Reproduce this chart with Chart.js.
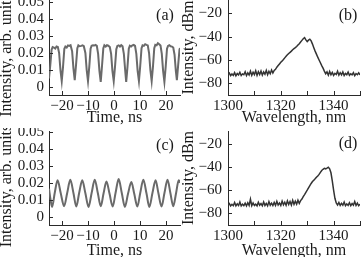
<!DOCTYPE html>
<html>
<head>
<meta charset="utf-8">
<script src="https://cdn.jsdelivr.net/npm/chart.js@4.4.0/dist/chart.umd.min.js"></script>
<style>
    html, body { margin: 0; padding: 0; background: #fff; }
    body { width: 364px; height: 257px; position: relative; overflow: hidden; }
    canvas { position: absolute; }
    .tag {
        position: absolute;
        font: 16px 'Liberation Serif', 'DejaVu Serif', serif;
        color: #1a1a1a;
        line-height: 1;
        transform: translate(-50%, -50%);
    }
</style>
</head>
<body>
<canvas id="chartA" width="182" height="128" style="left:0;top:0"></canvas>
<canvas id="chartB" width="182" height="128" style="left:182px;top:0"></canvas>
<canvas id="chartC" width="182" height="133" style="left:0;top:128px"></canvas>
<canvas id="chartD" width="182" height="133" style="left:182px;top:128px"></canvas>
<div class="tag" style="left:165px;top:15px">(a)</div>
<div class="tag" style="left:348px;top:15px">(b)</div>
<div class="tag" style="left:165px;top:145px">(c)</div>
<div class="tag" style="left:348px;top:143px">(d)</div>

<script>
// 波形数据 (a): 时间, ns
const timeA = [-25.0, -24.5, -24.0, -23.6, -23.1, -22.6, -22.1, -21.6, -21.1, -20.6, -20.1,
    -19.6, -19.1, -18.7, -18.2, -17.7, -17.2, -16.7, -16.1, -15.6, -15.1,
    -14.6, -14.1, -13.7, -13.2, -12.6, -12.1, -11.6, -11.0, -10.5, -10.0,
    -9.5, -9.0, -8.6, -8.1, -7.6, -7.1, -6.6, -6.1, -5.6, -5.1,
    -4.6, -4.1, -3.7, -3.2, -2.7, -2.2, -1.6, -1.1, -0.6, -0.1,
    0.4, 0.9, 1.3, 1.8, 2.3, 2.8, 3.3, 3.8, 4.3, 4.7,
    5.2, 5.7, 6.1, 6.6, 7.1, 7.6, 8.1, 8.6, 9.1, 9.6,
    10.1, 10.6, 11.0, 11.5, 12.0, 12.5, 13.0, 13.5, 14.0, 14.5,
    15.0, 15.5, 15.9, 16.4, 16.9, 17.4, 17.9, 18.4, 18.9, 19.4,
    19.9, 20.4, 20.8, 21.3, 21.8, 22.3, 22.8, 23.3, 23.8, 24.2,
    24.7, 25.2, 25.4];
const intensityA = [0.005, 0.013, 0.022, 0.0235, 0.0232, 0.0226, 0.0238, 0.0235, 0.020, 0.010, 0.0035,
    0.012, 0.0225, 0.0238, 0.0232, 0.0245, 0.0242, 0.0246, 0.021, 0.011, 0.004,
    0.013, 0.0228, 0.0245, 0.024, 0.0242, 0.0245, 0.024, 0.020, 0.010, 0.0035,
    0.012, 0.0225, 0.0243, 0.0246, 0.0244, 0.0248, 0.0242, 0.0195, 0.0095, 0.003,
    0.0125, 0.0228, 0.0245, 0.0238, 0.0246, 0.0243, 0.0235, 0.0195, 0.0095, 0.0035,
    0.012, 0.0222, 0.0242, 0.0245, 0.0238, 0.0246, 0.024, 0.0195, 0.010, 0.003,
    0.012, 0.0225, 0.0243, 0.0238, 0.0245, 0.0248, 0.0242, 0.0195, 0.0095, 0.0035,
    0.0125, 0.0228, 0.0245, 0.0242, 0.0252, 0.0248, 0.0245, 0.020, 0.010, 0.0035,
    0.012, 0.0228, 0.0248, 0.0245, 0.0258, 0.0252, 0.0244, 0.0195, 0.0095, 0.003,
    0.012, 0.0225, 0.0242, 0.0246, 0.024, 0.0238, 0.0232, 0.019, 0.0095, 0.004,
    0.013, 0.022, 0.023];

// 波形数据 (c)
const timeC = [-25.0, -24.4, -23.8, -22.8, -21.7, -20.5, -19.2, -18.0, -16.8, -15.6,
    -14.5, -13.4, -12.2, -11.0, -9.8, -8.6, -7.4, -6.2, -5.1, -4.0,
    -2.9, -1.7, -0.5, 0.6, 1.8, 3.0, 4.2, 5.4, 6.7, 7.8,
    9.0, 10.1, 11.3, 12.5, 13.6, 14.8, 16.0, 17.1, 18.3, 19.4,
    20.6, 21.7, 22.8, 23.9, 24.9, 25.4];
const intensityC = [0.0165, 0.010, 0.0058, 0.014, 0.0215, 0.014, 0.0062, 0.014, 0.0218, 0.014,
    0.006, 0.014, 0.0215, 0.0138, 0.0058, 0.014, 0.0218, 0.0138, 0.0062, 0.0138,
    0.0208, 0.0135, 0.006, 0.014, 0.0222, 0.014, 0.0058, 0.0135, 0.0205, 0.0135,
    0.006, 0.014, 0.0218, 0.0138, 0.0058, 0.014, 0.0215, 0.0138, 0.006, 0.0138,
    0.0218, 0.014, 0.0062, 0.014, 0.0215, 0.020];

// 光谱数据: 波长, nm
const wavelengths = [1300, 1300.5, 1301, 1301.5, 1302, 1302.5, 1303, 1303.5, 1304, 1304.5,
    1305, 1305.5, 1306, 1306.5, 1307, 1307.5, 1308, 1308.5, 1309, 1309.5,
    1310, 1310.5, 1311, 1311.5, 1312, 1312.5, 1313, 1313.5, 1314, 1314.5,
    1315, 1315.5, 1316, 1316.5, 1317, 1317.5, 1318, 1318.5, 1319, 1319.5,
    1320, 1320.5, 1321, 1321.5, 1322, 1322.5, 1323, 1323.5, 1324, 1324.5,
    1325, 1325.5, 1326, 1326.5, 1327, 1327.5, 1328, 1328.5, 1329, 1329.5,
    1330, 1330.5, 1331, 1331.5, 1332, 1332.5, 1333, 1333.5, 1334, 1334.5,
    1335, 1335.5, 1336, 1336.5, 1337, 1337.5, 1338, 1338.5, 1339, 1339.5,
    1340, 1340.5, 1341, 1341.5, 1342, 1342.5, 1343, 1343.5, 1344, 1344.5,
    1345, 1345.5, 1346, 1346.5, 1347, 1347.5, 1348, 1348.5, 1349, 1349.5,
    1350];
const spectrumB = [-72.5, -71.2, -73.4, -72.0, -73.2, -70.8, -73.5, -71.6, -72.8, -70.5,
    -73.3, -71.9, -72.6, -70.1, -73.4, -71.0, -72.9, -69.6, -73.1, -70.4,
    -72.5, -69.2, -73.2, -70.0, -72.4, -69.4, -73.0, -70.3, -72.2, -68.9,
    -72.6, -69.7, -71.8, -68.6, -71.2, -69.0, -68.0, -66.2, -64.8, -63.4,
    -62.0, -60.8, -59.6, -58.2, -56.8, -55.6, -54.4, -53.5, -52.4, -51.2,
    -50.3, -49.4, -48.4, -47.2, -46.0, -44.6, -43.2, -41.8, -40.9, -42.8,
    -44.2, -43.0, -42.2, -43.6, -46.4, -49.5, -52.4, -55.0, -57.6, -60.0,
    -62.4, -64.8, -67.0, -69.5, -71.8, -70.2, -73.0, -69.8, -72.6, -70.6,
    -73.2, -71.4, -72.4, -69.6, -73.0, -70.9, -72.7, -70.2, -73.3, -71.5,
    -72.6, -70.4, -73.1, -71.8, -72.8, -70.9, -73.4, -71.6, -72.6, -71.0,
    -72.8];
const spectrumD = [-73.0, -71.5, -73.6, -72.2, -73.4, -70.6, -73.5, -71.8, -73.2, -70.2,
    -73.6, -72.0, -73.3, -71.2, -73.5, -70.8, -73.1, -67.8, -73.4, -71.0,
    -73.2, -72.0, -73.5, -70.4, -73.0, -71.6, -73.4, -70.2, -73.2, -71.4,
    -73.5, -69.8, -73.0, -71.2, -73.3, -70.6, -73.1, -69.6, -72.8, -71.0,
    -73.2, -69.4, -72.6, -70.4, -73.0, -69.2, -72.4, -69.8, -72.8, -68.8,
    -72.2, -69.4, -72.0, -68.6, -71.4, -69.0, -67.6, -65.6, -63.8, -61.8,
    -60.0, -58.0, -56.0, -54.2, -52.6, -51.4, -50.2, -48.8, -47.8, -46.4,
    -44.6, -43.0, -42.0, -41.2, -41.6, -41.0, -40.2, -41.6, -45.0, -52.0,
    -60.0, -67.0, -71.0, -72.8, -70.6, -73.2, -71.4, -73.0, -70.2, -73.4,
    -71.8, -73.1, -70.8, -73.3, -71.5, -73.0, -69.8, -73.2, -71.2, -73.4,
    -72.0];

// 刻度
const timeTicks = [-20, -10, 0, 10, 20];
const ampTicks = [0, 0.01, 0.02, 0.03, 0.04, 0.05];
const wlTicks = [1300, 1310, 1320, 1330, 1340, 1350];
const wlLabelTicks = [1300, 1320, 1340];
const dbmTicks = [-20, -40, -60, -80];

const FONT = "'Liberation Serif', 'DejaVu Serif', serif";
const INK = '#1a1a1a';
const AXIS = '#2a2a2a';

Chart.defaults.font.family = FONT;
Chart.defaults.color = INK;

function minus(v) {
    return v < 0 ? '\u2212' + Math.abs(v) : String(v);
}

// 向内的刻度线
const innerTicks = {
    id: 'innerTicks',
    afterDraw(chart) {
        const { ctx, chartArea, scales } = chart;
        ctx.save();
        ctx.strokeStyle = AXIS;
        ctx.lineWidth = 1;
        ctx.beginPath();
        scales.x.ticks.forEach(t => {
            const px = Math.round(scales.x.getPixelForValue(t.value)) + 0.5;
            ctx.moveTo(px, chartArea.bottom);
            ctx.lineTo(px, chartArea.bottom - 4);
        });
        scales.y.ticks.forEach(t => {
            const py = Math.round(scales.y.getPixelForValue(t.value)) + 0.5;
            ctx.moveTo(chartArea.left, py);
            ctx.lineTo(chartArea.left + 4, py);
        });
        ctx.stroke();
        ctx.restore();
    }
};

function makePanel(id, p) {
    const points = p.xs.map((x, i) => ({ x: x, y: p.ys[i] }));
    return new Chart(document.getElementById(id), {
        type: 'line',
        data: {
            datasets: [{
                data: points,
                borderColor: p.color,
                borderWidth: p.lineWidth,
                pointRadius: 0,
                fill: false,
                cubicInterpolationMode: p.smooth ? 'monotone' : 'default',
                tension: 0
            }]
        },
        options: {
            responsive: false,
            animation: false,
            events: [],
            layout: { padding: { top: p.padTop, right: p.padRight, left: 0, bottom: 0 } },
            plugins: { legend: { display: false }, tooltip: { enabled: false } },
            scales: {
                x: {
                    type: 'linear',
                    min: p.xMin,
                    max: p.xMax,
                    grid: { display: false, drawTicks: false },
                    border: { display: true, color: AXIS, width: 1 },
                    afterBuildTicks: s => { s.ticks = p.xTicks.map(v => ({ value: v })); },
                    afterFit: s => { s.height = p.xHeight; s.paddingLeft = 0; s.paddingRight = 0; },
                    ticks: {
                        autoSkip: false,
                        maxRotation: 0,
                        padding: 4,
                        font: { size: 15, lineHeight: 1 },
                        callback: p.xLabel
                    },
                    title: {
                        display: true,
                        text: p.xTitle,
                        font: { size: 16, lineHeight: 1 },
                        padding: { top: 0, bottom: 2 }
                    }
                },
                y: {
                    min: p.yMin,
                    max: p.yMax,
                    grid: { display: false, drawTicks: false },
                    border: { display: true, color: AXIS, width: 1 },
                    afterBuildTicks: s => { s.ticks = p.yTicks.map(v => ({ value: v })); },
                    afterFit: s => { s.width = p.yWidth; s.paddingTop = 0; s.paddingBottom = 0; },
                    ticks: {
                        autoSkip: false,
                        padding: p.yPad,
                        font: { size: 15, lineHeight: 1 },
                        callback: p.yLabel
                    },
                    title: {
                        display: true,
                        text: p.yTitle,
                        font: { size: 16, lineHeight: 1 },
                        padding: { top: -1, bottom: 0 }
                    }
                }
            }
        },
        plugins: [innerTicks]
    });
}

const ampLabel = v => (v === 0 ? '0' : v.toFixed(2));
const timeLabel = v => minus(v);
const wlLabel = v => (wlLabelTicks.includes(v) ? String(v) : '');
const dbmLabel = v => minus(v);

makePanel('chartA', {
    xs: timeA, ys: intensityA, color: '#6a6a6a', lineWidth: 2, smooth: false,
    xMin: -25, xMax: 25.4, yMin: -0.0047, yMax: 0.0512,
    xTicks: timeTicks, yTicks: ampTicks, xLabel: timeLabel, yLabel: ampLabel,
    xTitle: 'Time, ns', yTitle: 'Intensity, arb. units    ',
    padTop: 0, padRight: 2, xHeight: 33, yWidth: 49, yPad: 5
});

makePanel('chartB', {
    xs: wavelengths, ys: spectrumB, color: '#333333', lineWidth: 1.5, smooth: false,
    xMin: 1300, xMax: 1350, yMin: -90, yMax: -8.6,
    xTicks: wlTicks, yTicks: dbmTicks, xLabel: wlLabel, yLabel: dbmLabel,
    xTitle: 'Wavelength, nm', yTitle: 'Intensity, dBm',
    padTop: 0, padRight: 4, xHeight: 33, yWidth: 46, yPad: 6
});

makePanel('chartC', {
    xs: timeC, ys: intensityC, color: '#6a6a6a', lineWidth: 2, smooth: true,
    xMin: -25, xMax: 25.4, yMin: -0.0049, yMax: 0.0506,
    xTicks: timeTicks, yTicks: ampTicks, xLabel: timeLabel, yLabel: ampLabel,
    xTitle: 'Time, ns', yTitle: 'Intensity, arb. units    ',
    padTop: 3, padRight: 2, xHeight: 36, yWidth: 49, yPad: 5
});

makePanel('chartD', {
    xs: wavelengths, ys: spectrumD, color: '#333333', lineWidth: 1.5, smooth: false,
    xMin: 1300, xMax: 1350, yMin: -90, yMax: -9,
    xTicks: wlTicks, yTicks: dbmTicks, xLabel: wlLabel, yLabel: dbmLabel,
    xTitle: 'Wavelength, nm', yTitle: 'Intensity, dBm',
    padTop: 3, padRight: 4, xHeight: 36, yWidth: 46, yPad: 6
});
</script>
</body>
</html>
